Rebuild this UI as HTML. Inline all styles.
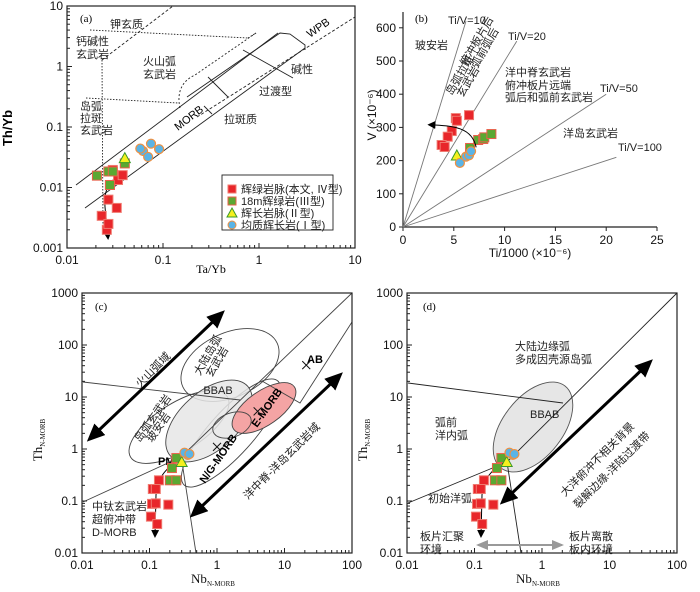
<!DOCTYPE html>
<html><head><meta charset="utf-8">
<style>
html,body{margin:0;padding:0;background:#fff;}
svg{display:block;font-family:"Liberation Sans","Noto Sans CJK SC",sans-serif;}
.cn{font-family:"Liberation Sans","Noto Sans CJK SC",sans-serif;font-size:11px;fill:#222;}
.tk{font-size:12px;fill:#111;}
.ser{font-family:"Liberation Serif","Noto Serif CJK SC",serif;}
</style></head>
<body>
<svg id="fig" width="700" height="592" viewBox="0 0 700 592">
<defs>
<marker id="ah" markerWidth="8" markerHeight="8" refX="6" refY="4" orient="auto" markerUnits="userSpaceOnUse"><path d="M0,0 L8,4 L0,8 Z" fill="#000"/></marker>
<marker id="bh" markerWidth="18" markerHeight="16" refX="14" refY="8" orient="auto" markerUnits="userSpaceOnUse"><path d="M0,0 L18,8 L0,16 Z" fill="#000"/></marker>
<marker id="bhs" markerWidth="18" markerHeight="16" refX="4" refY="8" orient="auto-start-reverse" markerUnits="userSpaceOnUse"><path d="M0,0 L18,8 L0,16 Z" fill="#000"/></marker>
<marker id="gh" markerWidth="12" markerHeight="10" refX="10" refY="5" orient="auto-start-reverse" markerUnits="userSpaceOnUse"><path d="M0,0 L12,5 L0,10 Z" fill="#999"/></marker>
</defs>

<g fill="none" stroke="#222" stroke-width="0.9">
<line x1="76" y1="185" x2="278" y2="33"/>
<line x1="85" y1="208" x2="305" y2="48"/>
<polyline points="187,97 280,33 290,34 305,45 305,50"/>
<line x1="197" y1="117" x2="355" y2="17" stroke-dasharray="3,2"/>
<line x1="102" y1="60" x2="173" y2="6" stroke-dasharray="3,2"/>
<line x1="102" y1="60" x2="103" y2="228" stroke-dasharray="1.5,1.5"/>
<line x1="90" y1="30" x2="248" y2="38" stroke-dasharray="1.5,1.5"/>
<line x1="248" y1="38" x2="256" y2="33" stroke-dasharray="1.5,1.5"/>
<line x1="86" y1="98" x2="178" y2="103" stroke-dasharray="1.5,1.5"/>
<path d="M180,108 C176,90 184,80 195,75 L256,33" stroke-dasharray="2,2"/>
<line x1="208" y1="77" x2="228" y2="97"/>
<line x1="243" y1="50" x2="293" y2="78"/>
<line x1="204" y1="106" x2="212" y2="114"/>
</g>
<g>
<text class="ser" x="80" y="22" font-size="11">(a)</text>
<text class="cn" x="110" y="28">钾玄质</text>
<text class="cn" x="76" y="45">钙碱性</text>
<text class="cn" x="76" y="58">玄武岩</text>
<text class="cn" x="143" y="65">火山弧</text>
<text class="cn" x="143" y="78">玄武岩</text>
<text class="cn" x="291" y="73">碱性</text>
<text class="cn" x="259" y="95">过渡型</text>
<text class="cn" x="224" y="123">拉斑质</text>
<text class="cn" x="80" y="110">岛弧</text>
<text class="cn" x="80" y="122">拉斑</text>
<text class="cn" x="80" y="134">玄武岩</text>
<text x="178" y="131" font-size="11" transform="rotate(-38 178 131)">MORB</text>
<text x="310" y="38" font-size="11" transform="rotate(-35 310 38)">WPB</text>
<text x="12" y="128" font-size="13" font-weight="bold" transform="rotate(-90 12 128)" text-anchor="middle">Th/Yb</text>
<text class="ser" x="211" y="273" font-size="12" text-anchor="middle">Ta/Yb</text>
</g>
<g>
<rect x="222" y="175" width="111" height="55" fill="#fff" stroke="#222" stroke-width="0.9"/>
<rect x="228" y="185" width="8" height="8" fill="#e8262a" stroke="#f07a70"/>
<text class="cn" x="241" y="193" font-size="10">辉绿岩脉(本文, Ⅳ型)</text>
<rect x="228" y="197" width="8" height="8" fill="#5aa832" stroke="#e8604a"/>
<text class="cn" x="241" y="205" font-size="10">18m辉绿岩(Ⅲ型)</text>
<polygon points="232,208 237,217 227,217" fill="#f5f01e" stroke="#3a9a2a"/>
<text class="cn" x="241" y="217" font-size="10">辉长岩脉(Ⅱ型)</text>
<circle cx="232" cy="225" r="4" fill="#5ab4e6" stroke="#f09040"/>
<text class="cn" x="241" y="229" font-size="10">均质辉长岩(Ⅰ型)</text>
</g>
<path d="M117,177 C106,184 104,195 105,207 L108,238" fill="none" stroke="#000" stroke-width="1" marker-end="url(#ah)"/>

<g>
<text class="ser" x="415" y="22" font-size="11">(b)</text>
<text x="448" y="24" font-size="11" fill="#222">Ti/V=10</text>
<text x="508" y="40" font-size="11" fill="#222">Ti/V=20</text>
<text x="600" y="92" font-size="11" fill="#222">Ti/V=50</text>
<text x="618" y="151" font-size="11" fill="#222">Ti/V=100</text>
<text class="cn" x="415" y="49">玻安岩</text>
<text class="cn" x="452" y="96" font-size="10" transform="rotate(-60 452 96)">岛弧拉斑</text>
<text class="cn" x="463" y="98" font-size="10" transform="rotate(-60 463 98)">玄武岩</text>
<text class="cn" x="466" y="67" font-size="10" transform="rotate(-60 466 67)">俯冲板片后</text>
<text class="cn" x="477" y="69" font-size="10" transform="rotate(-60 477 69)">弧前弧后</text>
<text class="cn" x="505" y="76">洋中脊玄武岩</text>
<text class="cn" x="505" y="89">俯冲板片远端</text>
<text class="cn" x="505" y="101">弧后和弧前玄武岩</text>
<text class="cn" x="563" y="137">洋岛玄武岩</text>
<text x="376" y="115" font-size="12" fill="#111" transform="rotate(-90 376 115)" text-anchor="middle">V (×10⁻⁶)</text>
<text x="530" y="257" font-size="12" fill="#111" text-anchor="middle">Ti/1000 (×10⁻⁶)</text>
</g>

<g fill="none" stroke="#444" stroke-width="0.9">
<ellipse cx="230" cy="365" rx="52" ry="32" transform="rotate(-25 230 365)"/>
<ellipse cx="231" cy="433" rx="70" ry="22" transform="rotate(-48 231 433)"/>
<ellipse cx="179" cy="427" rx="57" ry="24" transform="rotate(-32 179 427)"/>
<ellipse cx="209" cy="421" rx="52" ry="29" transform="rotate(-42 209 421)" fill="#e6e6e6" fill-opacity="0.85"/>
<ellipse cx="264" cy="408" rx="37" ry="17" transform="rotate(-35 264 408)" fill="#f4a4a4"/>
<ellipse cx="232" cy="425" rx="20" ry="12" transform="rotate(-20 232 425)"/>
<path d="M262,381 L300,403 L352,322"/>
<line x1="83" y1="382" x2="240" y2="400"/>
<line x1="83" y1="502" x2="181" y2="457"/>
<line x1="181" y1="457" x2="352" y2="293"/>
<line x1="182" y1="462" x2="196" y2="553"/>
</g>
<g>
<text class="ser" x="95" y="310" font-size="11">(c)</text>
<text class="cn" x="200" y="376" font-size="10" transform="rotate(-60 200 376)">大陆岛弧</text>
<text class="cn" x="212" y="378" font-size="10" transform="rotate(-60 212 378)">玄武岩</text>
<text x="218" y="394" font-size="11" fill="#222" text-anchor="middle">BBAB</text>
<text class="cn" x="140" y="443" font-size="10" transform="rotate(-55 140 443)">岛弧玄武岩</text>
<text class="cn" x="152" y="443" font-size="10" transform="rotate(-55 152 443)">玻安岩</text>
<text x="257" y="428" font-size="11" font-weight="bold" transform="rotate(-55 257 428)">E-MORB</text>
<text x="205" y="484" font-size="11" font-weight="bold" transform="rotate(-55 205 484)">N/G-MORB</text>
<text x="158" y="465" font-size="11" font-weight="bold">PM</text>
<text x="307" y="363" font-size="11" font-weight="bold">AB</text>
<text class="cn" x="140" y="388" font-size="14" transform="rotate(-45 140 388)">火山弧域</text>
<text class="cn" x="248" y="500" font-size="13" transform="rotate(-45 248 500)">洋中脊-洋岛玄武岩域</text>
<text class="cn" x="92" y="510">中钛玄武岩</text>
<text class="cn" x="92" y="523">超俯冲带</text>
<text class="cn" x="92" y="536">D-MORB</text>
<line x1="97" y1="432" x2="222" y2="313" stroke="#000" stroke-width="3" marker-end="url(#bh)" marker-start="url(#bhs)"/>
<line x1="200" y1="508" x2="340" y2="375" stroke="#000" stroke-width="3" marker-end="url(#bh)" marker-start="url(#bhs)"/>
<text class="ser" x="42" y="440" font-size="13" fill="#111" transform="rotate(-90 42 440)" text-anchor="middle">Th<tspan font-size="7" dy="3">N-MORB</tspan></text>
<text class="ser" x="213" y="583" font-size="13" fill="#111" text-anchor="middle">Nb<tspan font-size="7" dy="3">N-MORB</tspan></text>
</g>
<path d="M182,457 C163,470 157,480 156,495 L155,536" fill="none" stroke="#000" stroke-width="1" marker-end="url(#ah)"/>

<g fill="none" stroke="#222" stroke-width="0.9">
<ellipse cx="533" cy="427" rx="52" ry="30" transform="rotate(-52 533 427)" fill="#e6e6e6" stroke="#555"/>
<line x1="408" y1="503" x2="507" y2="462"/>
<line x1="507" y1="462" x2="677" y2="293"/>
<line x1="408" y1="383" x2="563" y2="403"/>
<line x1="507" y1="462" x2="521" y2="553"/>
</g>
<g>
<text class="ser" x="423" y="310" font-size="11">(d)</text>
<text class="cn" x="515" y="350">大陆边缘弧</text>
<text class="cn" x="515" y="363">多成因壳源岛弧</text>
<text x="530" y="418" font-size="11" fill="#222">BBAB</text>
<text class="cn" x="435" y="426">弧前</text>
<text class="cn" x="435" y="439">洋内弧</text>
<text class="cn" x="428" y="502">初始洋弧</text>
<text class="cn" x="420" y="540">板片汇聚</text>
<text class="cn" x="420" y="553">环境</text>
<text class="cn" x="569" y="540">板片离散</text>
<text class="cn" x="569" y="553">板内环境</text>
<text class="cn" x="565" y="497" font-size="13" transform="rotate(-45 565 497)">大洋俯冲不相关背景</text>
<text class="cn" x="578" y="509" font-size="13" transform="rotate(-45 578 509)">裂解边缘-洋陆过渡带</text>
<line x1="510" y1="495" x2="650" y2="362" stroke="#000" stroke-width="3" marker-end="url(#bh)" marker-start="url(#bhs)"/>
<line x1="478" y1="545" x2="562" y2="545" stroke="#999" stroke-width="2" marker-end="url(#gh)" marker-start="url(#gh)"/>
<text class="ser" x="367" y="440" font-size="13" fill="#111" transform="rotate(-90 367 440)" text-anchor="middle">Th<tspan font-size="7" dy="3">N-MORB</tspan></text>
<text class="ser" x="538" y="583" font-size="13" fill="#111" text-anchor="middle">Nb<tspan font-size="7" dy="3">N-MORB</tspan></text>
</g>
<path d="M508,460 C490,470 483,480 482,495 L481,536" fill="none" stroke="#000" stroke-width="1" marker-end="url(#ah)"/>
<g id="dyn"></g>
</svg>
<script>
const aRedTa = [0.030,0.034,0.038,0.028,0.027,0.023,0.033,0.026,0.027];
const aRedTh = [0.0195,0.0133,0.016,0.011,0.0063,0.0034,0.0046,0.0020,0.0025];
const aGreenTa = [0.0205,0.027,0.030,0.040,0.028];
const aGreenTh = [0.0157,0.0184,0.0184,0.025,0.011];
const aYellowTa = [0.040];
const aYellowTh = [0.030];
const aBlueTa = [0.062,0.075,0.091,0.070,0.058];
const aBlueTh = [0.040,0.053,0.043,0.032,0.044];
const aXTicks = [0.01,0.1,1,10];
const aXTickLabels = ["0.01","0.1","1","10"];
const aYTicks = [0.001,0.01,0.1,1,10];
const aYTickLabels = ["0.001","0.01","0.1","1","10"];
const bRedTi = [5.2,6.5,4.8,4.4,3.8,4.1,5.3];
const bRedV = [328,337,289,272,247,241,320];
const bGreenTi = [6.6,7.4,7.9,8.0,8.7];
const bGreenV = [238,262,265,270,280];
const bYellowTi = [5.3];
const bYellowV = [214];
const bBlueTi = [5.6,6.2,6.5,6.7];
const bBlueV = [193,212,216,228];
const bRatios = [10,20,50,100];
const bRatioEndV = [620,560,400,210];
const bXTicks = [0,5,10,15,20,25];
const bYTicks = [0,100,200,300,400,500,600];
const cRedNb = [0.138,0.112,0.124,0.109,0.124,0.19,0.105,0.13];
const cRedTh = [0.25,0.17,0.17,0.088,0.09,0.085,0.05,0.036];
const cGreenNb = [0.25,0.215,0.20,0.25];
const cGreenTh = [0.67,0.43,0.25,0.25];
const cYellowNb = [0.30];
const cYellowTh = [0.55];
const cBlueNb = [0.37,0.33,0.39];
const cBlueTh = [0.77,0.85,0.80];
const cRefNb = [1,4,21];
const cRefTh = [1.1,5.3,41];
const cXTicks = [0.01,0.1,1,10,100];
const cXTickLabels = ["0.01","0.1","1","10","100"];
const cYTicks = [0.01,0.1,1,10,100,1000];
const cYTickLabels = ["0.01","0.1","1","10","100","1000"];

const NS = "http://www.w3.org/2000/svg";
const root = document.getElementById('dyn');
function mk(tag, attrs, name, parent){
  const el = document.createElementNS(NS, tag);
  for (const k in attrs) el.setAttribute(k, attrs[k]);
  
  
  (parent||root).appendChild(el);
  return el;
}
const L = Math.log10;
const ax = v => 67 + 96*(L(v)+2);
const ay = v => 6 + 60.5*(1-L(v));
const bx = v => 403 + 10.16*v;
const by = v => 227 - 0.332*v;
const cx = v => 82 + 67.5*(L(v)+2);
const cy = v => 293 + 52*(3-L(v));
const dx = v => 407 + 67.5*(L(v)+2);

function logAxes(prefix, xs, ys, xt, xl, yt, yl, x0,x1,y0,y1){
  mk('rect',{x:x0,y:y0,width:x1-x0,height:y1-y0,fill:'none',stroke:'#222','stroke-width':1.2},prefix+'-frame');
  for (let i=0;i<xt.length;i++){
    const X = xs(xt[i]);
    mk('line',{x1:X,y1:y1,x2:X,y2:y1-5,stroke:'#222'},prefix+'-x-tick');
    const t = mk('text',{x:X,y:y1+16,'text-anchor':'middle',class:'tk'},prefix+'-x-tick-label');
    t.textContent = xl[i];
    if (i<xt.length-1) for (let m=2;m<10;m++){
      const Xm = xs(xt[i]*m);
      mk('line',{x1:Xm,y1:y1,x2:Xm,y2:y1-3,stroke:'#222'},prefix+'-x-minor-tick');
    }
  }
  for (let i=0;i<yt.length;i++){
    const Y = ys(yt[i]);
    mk('line',{x1:x0,y1:Y,x2:x0+5,y2:Y,stroke:'#222'},prefix+'-y-tick');
    const t = mk('text',{x:x0-4,y:Y+4,'text-anchor':'end',class:'tk'},prefix+'-y-tick-label');
    t.textContent = yl[i];
    if (i<yt.length-1) for (let m=2;m<10;m++){
      const Ym = ys(yt[i]*m);
      mk('line',{x1:x0,y1:Ym,x2:x0+3,y2:Ym,stroke:'#222'},prefix+'-y-minor-tick');
    }
  }
}
function sq(X,Y,fill,stroke,name){ mk('rect',{x:X-4.5,y:Y-4.5,width:9,height:9,fill:fill,stroke:stroke,'stroke-width':1},name); }
function tri(X,Y,name){ mk('polygon',{points:`${X},${Y-6} ${X+5.5},${Y+4} ${X-5.5},${Y+4}`,fill:'#f5f01e',stroke:'#3a9a2a','stroke-width':1},name); }
function circ(X,Y,name){ mk('circle',{cx:X,cy:Y,r:4.5,fill:'#5ab4e6',stroke:'#f09040','stroke-width':1.2},name); }

function scatter(prefix, xs, ys, rx, ry, gx, gy, yx, yy, blx, bly){
  for (let i=0;i<rx.length;i++) sq(xs(rx[i]),ys(ry[i]),'#e8262a','#f07a70',prefix+'-diabase-dike-point');
  for (let i=0;i<gx.length;i++) sq(xs(gx[i]),ys(gy[i]),'#5aa832','#e8604a',prefix+'-18m-diabase-point');
  for (let i=0;i<yx.length;i++) tri(xs(yx[i]),ys(yy[i]),prefix+'-gabbro-dike-point');
  for (let i=0;i<blx.length;i++) circ(xs(blx[i]),ys(bly[i]),prefix+'-gabbro-point');
}

logAxes('panel-a', ax, ay, aXTicks, aXTickLabels, aYTicks, aYTickLabels, 67,355,6,248);
scatter('panel-a', ax, ay, aRedTa, aRedTh, aGreenTa, aGreenTh, aYellowTa, aYellowTh, aBlueTa, aBlueTh);

mk('line',{x1:403,y1:12,x2:403,y2:227,stroke:'#222','stroke-width':1.2},'panel-b-y-axis');
mk('line',{x1:403,y1:227,x2:657,y2:227,stroke:'#222','stroke-width':1.2},'panel-b-x-axis');
for (const v of bXTicks){
  mk('line',{x1:bx(v),y1:227,x2:bx(v),y2:231,stroke:'#222'},'panel-b-x-tick');
  const t = mk('text',{x:bx(v),y:244,'text-anchor':'middle',class:'tk'},'panel-b-x-tick-label');
  t.textContent = v;
}
for (const v of bYTicks){
  mk('line',{x1:399,y1:by(v),x2:403,y2:by(v),stroke:'#222'},'panel-b-y-tick');
  const t = mk('text',{x:396,y:by(v)+4,'text-anchor':'end',class:'tk'},'panel-b-y-tick-label');
  t.textContent = v;
}
for (let i=0;i<bRatios.length;i++){
  const V = bRatioEndV[i], Ti = V*bRatios[i]/1000;
  mk('line',{x1:bx(0),y1:by(0),x2:bx(Ti),y2:by(V),stroke:'#777','stroke-width':0.9},'ti-v-ratio-line');
}
scatter('panel-b', bx, by, bRedTi, bRedV, bGreenTi, bGreenV, bYellowTi, bYellowV, bBlueTi, bBlueV);
mk('path',{d:`M${bx(7.2)},${by(240)} C${bx(6.8)},${by(300)} ${bx(5)},${by(305)} ${bx(2.6)},${by(308)}`,fill:'none',stroke:'#000','stroke-width':1,'marker-end':'url(#ah)'},'trend-arrow-b');

logAxes('panel-c', cx, cy, cXTicks, cXTickLabels, cYTicks, cYTickLabels, 82,352,293,553);
for (let i=0;i<cRefNb.length;i++){
  const X=cx(cRefNb[i]), Y=cy(cRefTh[i]);
  mk('path',{d:`M${X-4},${Y-4}L${X+4},${Y+4}M${X+4},${Y-4}L${X-4},${Y+4}`,stroke:'#111','stroke-width':1},'reference-composition-cross');
}
scatter('panel-c', cx, cy, cRedNb, cRedTh, cGreenNb, cGreenTh, cYellowNb, cYellowTh, cBlueNb, cBlueTh);
logAxes('panel-d', dx, cy, cXTicks, cXTickLabels, cYTicks, cYTickLabels, 407,677,293,553);
scatter('panel-d', dx, cy, cRedNb, cRedTh, cGreenNb, cGreenTh, cYellowNb, cYellowTh, cBlueNb, cBlueTh);
</script>
</body></html>
